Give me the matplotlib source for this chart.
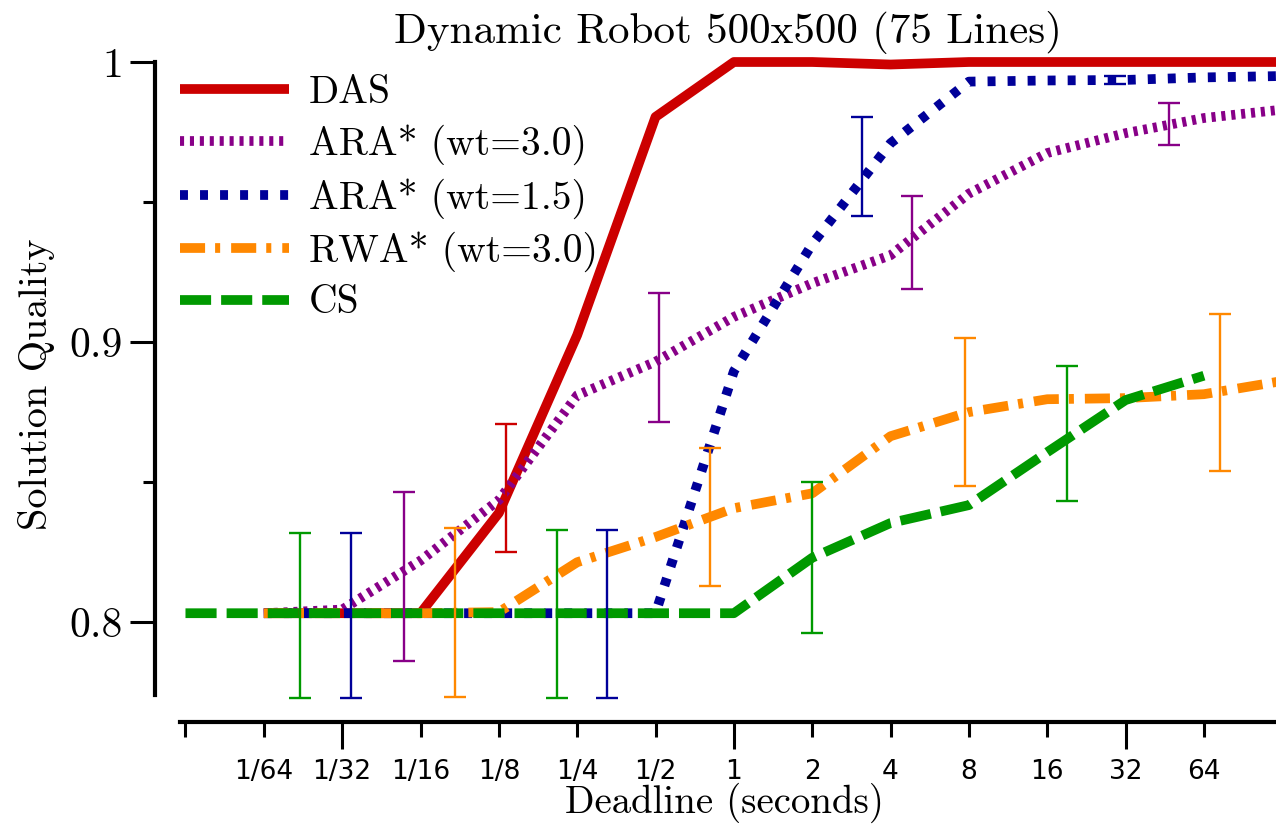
import matplotlib
matplotlib.use("Agg")
import matplotlib.pyplot as plt
from matplotlib.ticker import FixedLocator, FuncFormatter

# deadlines (seconds)
x_main = [1/64, 1/32, 1/16, 1/8, 1/4, 1/2, 1, 2, 4, 8, 16, 32, 64, 128]
x_cs = [1/128, 1/64, 1/32, 1/16, 1/8, 1/4, 1/2, 1, 2, 4, 8, 16, 32, 64]

das = [0.8032, 0.8032, 0.8032, 0.839, 0.9025, 0.9804, 1.0, 1.0, 0.9991, 1.0, 1.0, 1.0, 1.0, 1.0]
ara30 = [0.8032, 0.8045, 0.822, 0.8436, 0.881, 0.893, 0.909, 0.921, 0.931, 0.953, 0.9675, 0.9746, 0.980, 0.983]
ara15 = [0.8032, 0.8032, 0.8032, 0.8032, 0.8032, 0.8032, 0.8896, 0.935, 0.971, 0.993, 0.9934, 0.9936, 0.9945, 0.995]
rwa30 = [0.8032, 0.8032, 0.8032, 0.8036, 0.8214, 0.8304, 0.8407, 0.846, 0.8664, 0.875, 0.8796, 0.880, 0.8814, 0.8861]
cs = [0.8032, 0.8032, 0.8032, 0.8032, 0.8032, 0.8032, 0.8032, 0.8032, 0.823, 0.8354, 0.8418, 0.8607, 0.8793, 0.888]

# error bars (staggered positions)
das_ex = [0.1331, 1.266, 12.13, 115.4]
das_ey = [0.848, 1.0, 1.0, 1.0]
das_ee = [0.0229, 0.0005, 0.0005, 0.0005]
ara30_ex = [0.05405, 0.5141, 4.857, 46.85]
ara30_ey = [0.8162, 0.8945, 0.9355, 0.978]
ara30_ee = [0.0302, 0.023, 0.0166, 0.0075]
ara15_ex = [0.03378, 0.3253, 3.095, 29.24]
ara15_ey = [0.8025, 0.803, 0.9627, 0.9936]
ara15_ee = [0.0295, 0.030, 0.0177, 0.0015]
rwa30_ex = [0.08478, 0.8066, 7.727, 73.52]
rwa30_ey = [0.8034, 0.8375, 0.875, 0.882]
rwa30_ee = [0.0302, 0.0246, 0.0264, 0.0279]
cs_ex = [0.02149, 0.2088, 2.0, 19.03]
cs_ey = [0.8025, 0.8029, 0.823, 0.8673]
cs_ee = [0.0295, 0.030, 0.027, 0.0241]

labels = ["DAS", "ARA* (wt=3.0)", "ARA* (wt=1.5)", "RWA* (wt=3.0)", "CS"]
colors = ["#cc0000", "#880088", "#000099", "#ff8800", "#009900"]
SERIF = "cmr10"

fig = plt.figure(figsize=(12.76, 8.30), dpi=100)
ax = fig.add_axes([180 / 1276, 1 - 695 / 830, 1096 / 1276, (695 - 53.6) / 830])
ax.set_xscale("log", base=2)

lw = 7
series = [
    (x_main, das, "-", None),
    (x_main, ara30, "--", (0.42, 0.6)),
    (x_main, ara15, "--", (0.82, 1.24)),
    (x_main, rwa30, "--", (2.58, 1.03, 0.52, 1.13)),
    (x_cs, cs, "--", (3.2, 1.03)),
]
for (xs, ys, ls, dash), lab, col in zip(series, labels, colors):
    line, = ax.plot(xs, ys, ls, color=col, lw=lw, label=lab, solid_capstyle="butt")
    if dash is not None:
        line.set_dashes(dash)

errs = [
    (das_ex, das_ey, das_ee),
    (ara30_ex, ara30_ey, ara30_ee),
    (ara15_ex, ara15_ey, ara15_ee),
    (rwa30_ex, rwa30_ey, rwa30_ee),
    (cs_ex, cs_ey, cs_ee),
]
for (ex, ey, ee), col in zip(errs, colors):
    bars = ax.errorbar(ex, ey, yerr=ee, fmt="none", ecolor=col, elinewidth=1.7,
                       capsize=8, capthick=1.7, zorder=3)
    for art in bars.lines[1] + bars.lines[2]:
        art.set_clip_on(False)

ax.set_xlim(2 ** -7.07, 2 ** 6.92)
ax.set_ylim(0.774, 1.003)

for side in ("top", "right"):
    ax.spines[side].set_visible(False)
ax.spines["left"].set_position(("outward", 18))
ax.spines["bottom"].set_position(("outward", 19.4))
ax.spines["left"].set_bounds(0.774, 1.0)
ax.spines["left"].set_linewidth(3)
ax.spines["bottom"].set_linewidth(3)


def frac_label(v, pos=None):
    if v < 1 / 100:
        return ""
    if v >= 1:
        return str(int(round(v)))
    return "1/" + str(int(round(1 / v)))


ax.xaxis.set_major_locator(FixedLocator([2 ** -5, 1, 32]))
ax.xaxis.set_minor_locator(FixedLocator([2 ** k for k in range(-7, 7) if k not in (-5, 0, 5)]))
ax.xaxis.set_major_formatter(FuncFormatter(frac_label))
ax.xaxis.set_minor_formatter(FuncFormatter(frac_label))
ax.tick_params(axis="x", which="major", direction="out", length=19.4, width=2.2, pad=7.5, labelsize=19)
ax.tick_params(axis="x", which="minor", direction="out", length=10.8, width=2.2, pad=16, labelsize=19)

ax.set_yticks([0.8, 0.9, 1.0], ["0.8", "0.9", "1"])
ax.yaxis.set_minor_locator(FixedLocator([0.85, 0.95]))
ax.tick_params(axis="y", which="major", direction="out", length=18, width=2.2, pad=5, labelsize=30)
ax.tick_params(axis="y", which="minor", direction="out", length=8.6, width=2.2)
for t in ax.get_yticklabels():
    t.set_fontfamily(SERIF)

ax.set_title("Dynamic Robot 500x500 (75 Lines)", fontfamily=SERIF, fontsize=31, pad=1)
ax.set_xlabel("Deadline (seconds)", fontfamily=SERIF, fontsize=28)
ax.set_ylabel("Solution Quality", fontfamily=SERIF, fontsize=29)
ax.xaxis.set_label_coords(0.497, -0.137)
ax.yaxis.set_label_coords(-0.114, 0.485)

ax.legend(loc="upper left", bbox_to_anchor=(0, 0.966), frameon=False,
          prop={"family": SERIF, "size": 28.5}, handlelength=2.75, handletextpad=0.5,
          labelspacing=0.33, borderaxespad=0, borderpad=0)

fig.savefig("out.png", dpi=100)
